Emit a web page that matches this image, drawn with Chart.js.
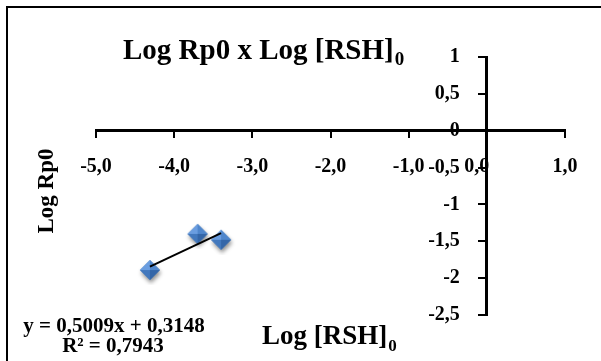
<!DOCTYPE html>
<html><head><meta charset="utf-8">
<script src="https://cdn.jsdelivr.net/npm/chart.js@4/dist/chart.umd.min.js"></script>
<style>html,body{margin:0;padding:0;background:#fff}#wrap{width:601px;height:361px}</style>
</head><body><div id="wrap"><canvas id="c" width="601" height="361"></canvas></div>
<script>
// ---- data ----
const logRSH0 = [-4.31, -3.70, -3.40];
const logRp0 = [-1.89, -1.40, -1.48];
const xTicks = [-5, -4, -3, -2, -1, 0, 1];
const yTicks = [1, 0.5, 0, -0.5, -1, -1.5, -2, -2.5];
const trendSlope = 0.5009;
const trendIntercept = 0.3148;
const trendR2 = 0.7943;
const chartTitle = 'Log Rp0 x Log [RSH]';
const xTitle = 'Log [RSH]';
const yTitle = 'Log Rp0';

const FAM = "'Liberation Serif','Times New Roman',serif";
const fmtX = v => v.toFixed(1).replace('.', ',') + (v === 0 ? '\u2003' : '');
const fmtY = v => (Number.isInteger(v) ? String(v) : v.toFixed(1)).replace('.', ',');
const fmtC = v => v.toFixed(4).replace('.', ',');

function makeMarker() {
  const c = document.createElement('canvas');
  c.width = 30; c.height = 30;
  const g = c.getContext('2d');
  const cx = 15, cy = 15, r = 10;
  g.save();
  g.shadowColor = 'rgba(0,0,0,0.45)'; g.shadowBlur = 4; g.shadowOffsetY = 3; g.shadowOffsetX = 1;
  g.beginPath(); g.moveTo(cx, cy - r); g.lineTo(cx + r, cy); g.lineTo(cx, cy + r); g.lineTo(cx - r, cy); g.closePath();
  g.fillStyle = '#4a7dbd'; g.fill();
  g.restore();
  const facet = (pts, col) => {
    g.beginPath(); g.moveTo(pts[0][0], pts[0][1]);
    for (let i = 1; i < pts.length; i++) g.lineTo(pts[i][0], pts[i][1]);
    g.closePath(); g.fillStyle = col; g.fill();
  };
  facet([[cx - r, cy], [cx, cy - r], [cx, cy]], '#6a9de0');
  facet([[cx, cy - r], [cx + r, cy], [cx, cy]], '#4f86cc');
  facet([[cx + r, cy], [cx, cy + r], [cx, cy]], '#3466a8');
  facet([[cx, cy + r], [cx - r, cy], [cx, cy]], '#4278bd');
  return c;
}

const pts = logRSH0.map((x, i) => ({ x: x, y: logRp0[i] }));
const xMin = Math.min(...logRSH0), xMax = Math.max(...logRSH0);
const trendPts = [xMin, xMax].map(x => ({ x: x, y: trendSlope * x + trendIntercept }));

const decor = {
  id: 'decor',
  afterDraw(chart) {
    const ctx = chart.ctx;
    const ys = chart.scales.y, xs = chart.scales.x;
    ctx.save();
    // outer frame
    ctx.strokeStyle = '#000'; ctx.lineWidth = 2;
    ctx.strokeRect(7, 7, 700, 700);
    ctx.fillStyle = '#000';
    // y tick labels
    ctx.font = 'bold 20px ' + FAM;
    ctx.textAlign = 'right'; ctx.textBaseline = 'middle';
    const ax = xs.getPixelForValue(0);
    ys.ticks.forEach(t => { ctx.fillText(fmtY(t.value), ax - 27, ys.getPixelForValue(t.value)); });
    // title with subscript
    ctx.textAlign = 'left'; ctx.textBaseline = 'alphabetic';
    ctx.font = 'bold 29px ' + FAM;
    ctx.fillText(chartTitle, 123, 59);
    let w = ctx.measureText(chartTitle).width;
    ctx.font = 'bold 19px ' + FAM;
    ctx.fillText('0', 123 + w + 1, 65);
    // x title with subscript
    ctx.font = 'bold 27px ' + FAM;
    ctx.fillText(xTitle, 262, 344);
    w = ctx.measureText(xTitle).width;
    ctx.font = 'bold 17px ' + FAM;
    ctx.fillText('0', 262 + w + 1, 351);
    // y title
    ctx.save();
    ctx.translate(53, 191); ctx.rotate(-Math.PI / 2);
    ctx.font = 'bold 23px ' + FAM; ctx.textAlign = 'center';
    ctx.fillText(yTitle, 0, 0);
    ctx.restore();
    // trendline equation
    ctx.font = 'bold 21px ' + FAM; ctx.textAlign = 'center';
    ctx.fillText('y = ' + fmtC(trendSlope) + 'x + ' + fmtC(trendIntercept), 114, 332);
    ctx.fillText('R\u00B2 = ' + fmtC(trendR2), 113, 352);
    ctx.restore();
  }
};

new Chart(document.getElementById('c'), {
  type: 'scatter',
  data: {
    datasets: [
      { label: 'Linear', type: 'line', data: trendPts, borderColor: '#000', borderWidth: 2, pointRadius: 0, showLine: true, fill: false, order: 0 },
      { label: 'Log Rp0', data: pts, pointStyle: makeMarker(), pointRadius: 10, order: 1 }
    ]
  },
  options: {
    responsive: false, animation: false, devicePixelRatio: 1,
    layout: { padding: { left: 96, right: 36, top: 57, bottom: 46 } },
    plugins: { legend: { display: false }, title: { display: false }, tooltip: { enabled: false } },
    scales: {
      x: {
        type: 'linear', position: { y: 0 }, min: -5, max: 1,
        afterBuildTicks: s => { s.ticks = xTicks.map(v => ({ value: v })); },
        ticks: { callback: v => fmtX(v), font: { family: FAM, size: 20, weight: 'bold' }, color: '#000', padding: 18, maxRotation: 0, autoSkip: false },
        grid: { drawOnChartArea: false, drawTicks: true, tickLength: 6, color: '#000', lineWidth: 2 },
        border: { display: true, color: '#000', width: 3 }
      },
      y: {
        type: 'linear', position: { x: 0 }, min: -2.5, max: 1,
        afterBuildTicks: s => { s.ticks = yTicks.map(v => ({ value: v })); },
        ticks: { display: false },
        grid: { drawOnChartArea: false, drawTicks: true, tickLength: 7, color: '#000', lineWidth: 2 },
        border: { display: true, color: '#000', width: 3 }
      }
    }
  },
  plugins: [decor]
});
</script>
</body></html>
